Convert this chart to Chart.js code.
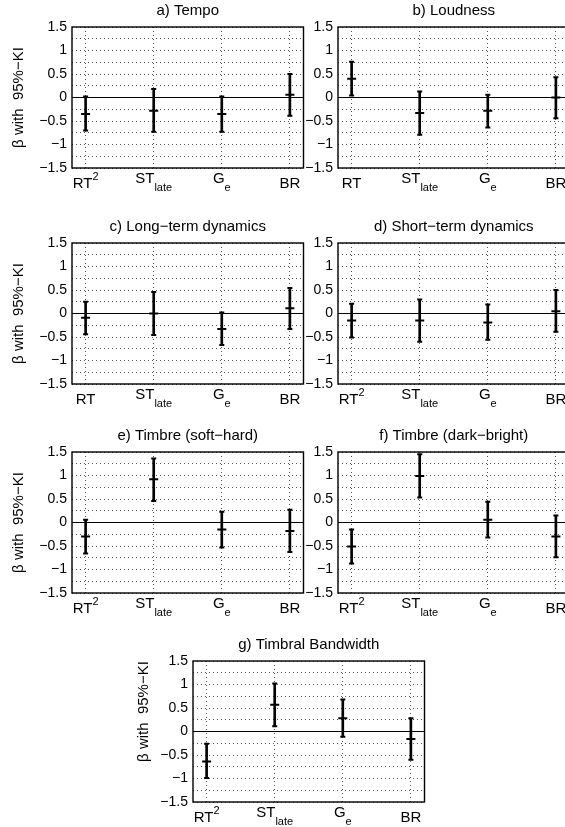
<!DOCTYPE html>
<html>
<head>
<meta charset="utf-8">
<script src="https://cdn.jsdelivr.net/npm/chart.js@4.4.1/dist/chart.umd.min.js"></script>
<style>
  html, body { margin: 0; padding: 0; background: #fff; overflow: hidden; width: 565px; height: 827px; }
  canvas { position: absolute; }
</style>
</head>
<body>
<script>
// panel titles
const titles = ['a) Tempo', 'b) Loudness', 'c) Long\u2212term dynamics', 'd) Short\u2212term dynamics',
  'e) Timbre (soft\u2212hard)', 'f) Timbre (dark\u2212bright)', 'g) Timbral Bandwidth'];

// x tick labels, ^{..} = superscript, _{..} = subscript
const catsRT2 = ['RT^{2}', 'ST_{late}', 'G_{e}', 'BR'];
const catsRT = ['RT', 'ST_{late}', 'G_{e}', 'BR'];
const catPos = [1, 2, 3, 4];

// y tick labels
const yTicks = [-1.5, -1, -0.5, 0, 0.5, 1, 1.5];
const yTickText = ['\u22121.5', '\u22121', '\u22120.5', '0', '0.5', '1', '1.5'];
const yTitle = '\u03b2 with  95%\u2212KI';

// beta and 95% interval per panel
const tempoB  = [-0.35, -0.28, -0.35, 0.06];
const tempoLo = [-0.70, -0.73, -0.73, -0.39];
const tempoHi = [0.02, 0.18, 0.02, 0.50];

const loudB  = [0.40, -0.33, -0.28, 0.00];
const loudLo = [0.04, -0.79, -0.64, -0.44];
const loudHi = [0.76, 0.13, 0.06, 0.43];

const longB  = [-0.09, 0.00, -0.33, 0.11];
const longLo = [-0.44, -0.46, -0.67, -0.33];
const longHi = [0.25, 0.46, 0.02, 0.54];

const shortB  = [-0.15, -0.15, -0.19, 0.05];
const shortLo = [-0.51, -0.60, -0.56, -0.39];
const shortHi = [0.21, 0.30, 0.19, 0.50];

const softB  = [-0.30, 0.92, -0.15, -0.18];
const softLo = [-0.66, 0.46, -0.53, -0.63];
const softHi = [0.06, 1.36, 0.23, 0.27];

const darkB  = [-0.51, 0.99, 0.06, -0.30];
const darkLo = [-0.87, 0.53, -0.32, -0.74];
const darkHi = [-0.15, 1.45, 0.44, 0.15];

const bandB  = [-0.64, 0.57, 0.28, -0.16];
const bandLo = [-0.99, 0.11, -0.11, -0.60];
const bandHi = [-0.26, 1.02, 0.68, 0.28];

const FONT = "'Liberation Sans', Arial, Helvetica, sans-serif";
const W = 232, H = 141;      // plot area size
const ML = 72, MT = 28, MB = 36, MR = 6;

// draws the box, the zero line, the y label and the tex-like x labels
const matlabAxes = {
  id: 'matlabAxes',
  beforeDatasetsDraw(chart) {
    const ctx = chart.ctx, a = chart.chartArea;
    const y0 = chart.scales.y.getPixelForValue(0);
    ctx.save();
    ctx.strokeStyle = '#000';
    ctx.lineWidth = 1;
    ctx.beginPath();
    ctx.moveTo(a.left, y0);
    ctx.lineTo(a.right, y0);
    ctx.stroke();
    ctx.restore();
  },
  afterDraw(chart, args, opts) {
    const ctx = chart.ctx, a = chart.chartArea;
    ctx.save();
    ctx.strokeStyle = '#000';
    ctx.lineWidth = 1.4;
    ctx.strokeRect(a.left, a.top, a.right - a.left, a.bottom - a.top);

    ctx.fillStyle = '#000';
    if (opts.yTitle) {
      ctx.save();
      ctx.translate(a.left - opts.yTitleDx, (a.top + a.bottom) / 2 + opts.yTitleDy);
      ctx.rotate(-Math.PI / 2);
      ctx.font = '15px ' + FONT;
      ctx.textAlign = 'center';
      ctx.textBaseline = 'middle';
      ctx.fillText(opts.yTitle, 0, 0);
      ctx.restore();
    }

    const xs = chart.scales.x;
    ctx.textAlign = 'left';
    ctx.textBaseline = 'alphabetic';
    opts.cats.forEach((lab, k) => {
      const parts = [];
      const re = /([\^_])\{([^}]*)\}|([^\^_]+)/g;
      let m;
      while ((m = re.exec(lab)) !== null) {
        if (m[3]) parts.push({ t: m[3], k: 'n' });
        else parts.push({ t: m[2], k: m[1] === '^' ? 'sup' : 'sub' });
      }
      const hasSub = parts.some(p => p.k === 'sub');
      let total = 0;
      parts.forEach(p => {
        ctx.font = (p.k === 'n' ? 15 : 11) + 'px ' + FONT;
        p.w = ctx.measureText(p.t).width;
        total += p.w;
      });
      let x = xs.getPixelForValue(catPos[k]) - total / 2;
      const base = a.bottom + (hasSub ? 14.5 : 20);
      parts.forEach(p => {
        ctx.font = (p.k === 'n' ? 15 : 11) + 'px ' + FONT;
        const dy = p.k === 'sup' ? -8 : (p.k === 'sub' ? 8 : 0);
        ctx.fillText(p.t, x, base + dy);
        x += p.w;
      });
    });
    ctx.restore();
  }
};

function makePanel(idx, left, top, cats, beta, lo, hi, yOpts) {
  const cv = document.createElement('canvas');
  const cw = ML + W + MR, ch = MT + H + MB;
  cv.width = cw;
  cv.height = ch;
  cv.style.left = (left - ML) + 'px';
  cv.style.top = (top - MT) + 'px';
  cv.style.width = cw + 'px';
  cv.style.height = ch + 'px';
  document.body.appendChild(cv);

  const pts = vals => catPos.map((x, k) => ({ x: x, y: vals[k] }));
  const mark = (vals, r) => ({
    type: 'line', data: pts(vals), showLine: false,
    pointStyle: 'line', pointRadius: r, pointHoverRadius: r,
    pointBorderColor: '#000', pointBorderWidth: 2, borderColor: '#000'
  });

  new Chart(cv, {
    type: 'bar',
    data: {
      datasets: [
        {
          type: 'bar',
          data: catPos.map((x, k) => ({ x: x, y: [lo[k], hi[k]] })),
          backgroundColor: '#000', borderWidth: 0, barThickness: 2
        },
        mark(lo, 2.5),
        mark(hi, 2.5),
        mark(beta, 4.5)
      ]
    },
    options: {
      responsive: false,
      animation: false,
      devicePixelRatio: 1,
      events: [],
      layout: { padding: { left: 0, right: MR, top: 0, bottom: 0 } },
      plugins: {
        legend: { display: false },
        tooltip: { enabled: false },
        title: {
          display: true, fullSize: false, text: titles[idx], color: '#000',
          font: { family: FONT, size: 15, weight: 'normal', lineHeight: 1.2 },
          padding: { top: 3, bottom: 7 }
        },
        matlabAxes: Object.assign({ cats: cats }, yOpts)
      },
      scales: {
        x: {
          type: 'linear', min: 0.8, max: 4.2, offset: false,
          afterBuildTicks: s => { s.ticks = catPos.map(v => ({ value: v })); },
          afterFit: s => { s.height = MB; },
          ticks: { display: false, autoSkip: false },
          grid: { color: '#555', lineWidth: 1, drawTicks: false, offset: false },
          border: { display: false, dash: [1, 3] }
        },
        y: {
          type: 'linear', min: -1.5, max: 1.5,
          afterBuildTicks: s => {
            const t = [];
            for (let k = 0; k <= 12; k++) t.push({ value: -1.5 + k * 0.25 });
            s.ticks = t;
          },
          afterFit: s => { s.width = ML; },
          ticks: {
            autoSkip: false, padding: 5, color: '#000',
            font: { family: FONT, size: 14 },
            callback: v => { const k = yTicks.indexOf(v); return k < 0 ? '' : yTickText[k]; }
          },
          grid: { color: '#555', lineWidth: 1, drawTicks: false },
          border: { display: false, dash: [1, 3] }
        }
      }
    },
    plugins: [matlabAxes]
  });
}

const yLeft = { yTitle: yTitle, yTitleDx: 53, yTitleDy: 0 };
const yNone = { yTitle: null };

makePanel(0, 72, 27, catsRT2, tempoB, tempoLo, tempoHi, yLeft);
makePanel(1, 338, 27, catsRT, loudB, loudLo, loudHi, yNone);
makePanel(2, 72, 243, catsRT, longB, longLo, longHi, yLeft);
makePanel(3, 338, 243, catsRT2, shortB, shortLo, shortHi, yNone);
makePanel(4, 72, 452, catsRT2, softB, softLo, softHi, yLeft);
makePanel(5, 338, 452, catsRT2, darkB, darkLo, darkHi, yNone);
makePanel(6, 193, 661, catsRT2, bandB, bandLo, bandHi, { yTitle: yTitle, yTitleDx: 49, yTitleDy: -20 });
</script>
</body>
</html>
